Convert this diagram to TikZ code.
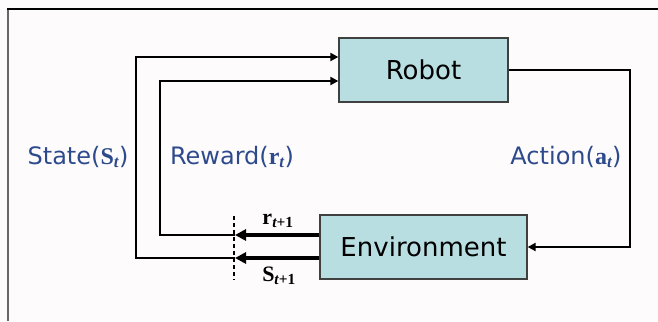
\documentclass[tikz,border=0pt]{standalone}
\usepackage{fontspec}
\setmainfont{DejaVu Sans}
\newfontfamily\tnr{Liberation Serif}
\usetikzlibrary{arrows.meta}
\definecolor{boxfill}{RGB}{184,222,226}
\definecolor{lblcol}{RGB}{45,74,140}
\definecolor{bgcol}{RGB}{254,251,253}
\newcommand{\bsym}[1]{{\tnr\bfseries #1}}
\newcommand{\bsub}[1]{\textsubscript{\tnr\bfseries\itshape #1}}
\begin{document}
\begin{tikzpicture}[x=1pt,y=-1pt,
  box/.style={draw=black!75,line width=1.3pt,fill=boxfill,inner sep=0pt,
    font=\fontsize{26}{30}\selectfont,minimum height=64pt},
  thinarr/.style={line width=2.2pt,-{Triangle[length=8pt,width=8pt]}},
  thickarr/.style={-{Triangle[length=11pt,width=11pt]}},
  lbl/.style={text=lblcol,font=\fontsize{24}{28}\selectfont,inner sep=0pt},
  sublbl/.style={font=\fontsize{22}{26}\selectfont,inner sep=0pt}]
\fill[bgcol] (0,0) rectangle (658,321);
\useasboundingbox (0,0) rectangle (658,321);
\draw[line width=1.3pt,black!60] (8,321) -- (8,9);
\draw[line width=1.3pt] (7.35,9) -- (658,9);
% boxes
\node[box,minimum width=169pt] (robot) at (423.5,70) {Robot};
\node[box,minimum width=207pt] (env) at (423.5,247) {Environment};
% coordinates
\coordinate (rL) at (235,235);
\coordinate (sL) at (235,258);
\coordinate (dtop) at (234,216);
\coordinate (dbot) at (234,280);
% action
\draw[thinarr] (robot.east) -- ++(121,0) |- (env.east);
% thick arrows
\draw[thickarr,line width=3.5pt] (env.west |- rL) -- (rL);
\draw[thickarr,line width=4.5pt] (env.west |- sL) -- (sL);
% feedback lines
\draw[thinarr] (rL) -- (160,235) -- (160,81) -- (robot.west |- 0,81);
\draw[thinarr] (sL) -- (136,258) -- (136,57) -- (robot.west |- 0,57);
% dashed
\draw[line width=1.5pt,dash pattern=on 4pt off 3pt] (dtop) -- (dbot);
% labels
\node[lbl] (lstate) at (78,157) {State(\bsym{S}\bsub{t})};
\node[lbl] (lreward) at (232,157) {Reward(\bsym{r}\bsub{t})};
\node[lbl] (laction) at (566,157) {Action(\bsym{a}\bsub{t})};
\node[sublbl] (lr1) at (278,221) {\bsym{r}\bsub{t\upshape+1}};
\node[sublbl] (ls1) at (279,276) {\bsym{S}\bsub{t\upshape+1}};
\end{tikzpicture}
\end{document}
